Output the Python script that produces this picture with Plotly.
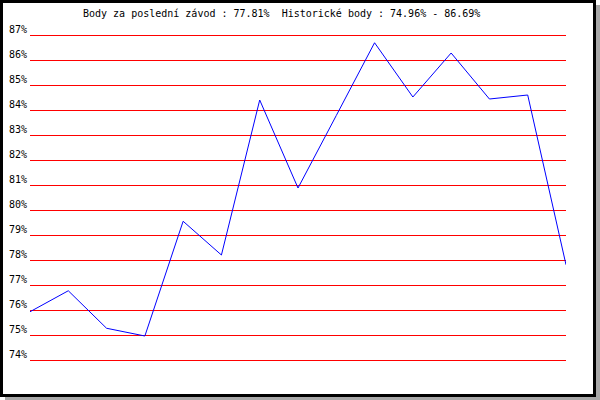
import plotly.graph_objects as go

races = list(range(1, 16))
points = [75.93, 76.77, 75.27, 74.96, 79.55, 78.2, 84.4, 80.88, 83.78,
          86.69, 84.52, 86.28, 84.44, 84.6, 77.81]
y_ticks = list(range(74, 88))
title_text = "Body za poslední závod : 77.81%  Historické body : 74.96% - 86.69%"

W, H = 600, 400
L, R, T, B = 30, 34, 30, 35
pw, ph = W - L - R, H - T - B


def px_x(x):
    return (x - L) / pw


def px_y(y):
    return (H - B - y) / ph


fig = go.Figure()
fig.add_trace(go.Scatter(x=races, y=points, mode="lines",
                         line=dict(color="#0000ff", width=1),
                         hoverinfo="skip"))

shapes = [
    dict(type="rect", xref="paper", yref="paper", layer="below",
         x0=px_x(5), x1=px_x(600), y0=px_y(5), y1=px_y(400),
         fillcolor="#a8a8a8", line=dict(width=0)),
    dict(type="rect", xref="paper", yref="paper", layer="below",
         x0=px_x(0), x1=px_x(596), y0=px_y(0), y1=px_y(397),
         fillcolor="#000000", line=dict(width=0)),
    dict(type="rect", xref="paper", yref="paper", layer="below",
         x0=px_x(3), x1=px_x(593), y0=px_y(3), y1=px_y(394),
         fillcolor="#ffffff", line=dict(width=0)),
]

fig.update_layout(
    template="none",
    width=W, height=H,
    margin=dict(l=L, r=R, t=T, b=B, pad=0, autoexpand=False),
    paper_bgcolor="#ffffff",
    plot_bgcolor="rgba(0,0,0,0)",
    showlegend=False,
    shapes=shapes,
    font=dict(family="DejaVu Sans Mono", size=10, color="#000000"),
    title=dict(text=title_text, x=83 / W, xanchor="left",
               y=1 - 13 / H, yanchor="middle",
               font=dict(family="DejaVu Sans Mono", size=10, color="#000000")),
    xaxis=dict(range=[1, 15], showgrid=False, zeroline=False,
               showticklabels=False, showline=False, ticks="",
               automargin=False),
    yaxis=dict(range=[73.8, 87.2], tickvals=y_ticks,
               ticktext=[f"{v}%" for v in y_ticks],
               showgrid=True, gridcolor="#ff0000", gridwidth=1,
               zeroline=False, showline=False, ticks="",
               ticklabelshift=-6, ticklabelstandoff=2, automargin=False,
               tickfont=dict(family="DejaVu Sans Mono", size=10, color="#000000")),
)

fig.write_html("out.html", config={"displayModeBar": False},
               post_script="document.body.style.margin='0';"
                           "document.body.style.overflow='hidden';")
